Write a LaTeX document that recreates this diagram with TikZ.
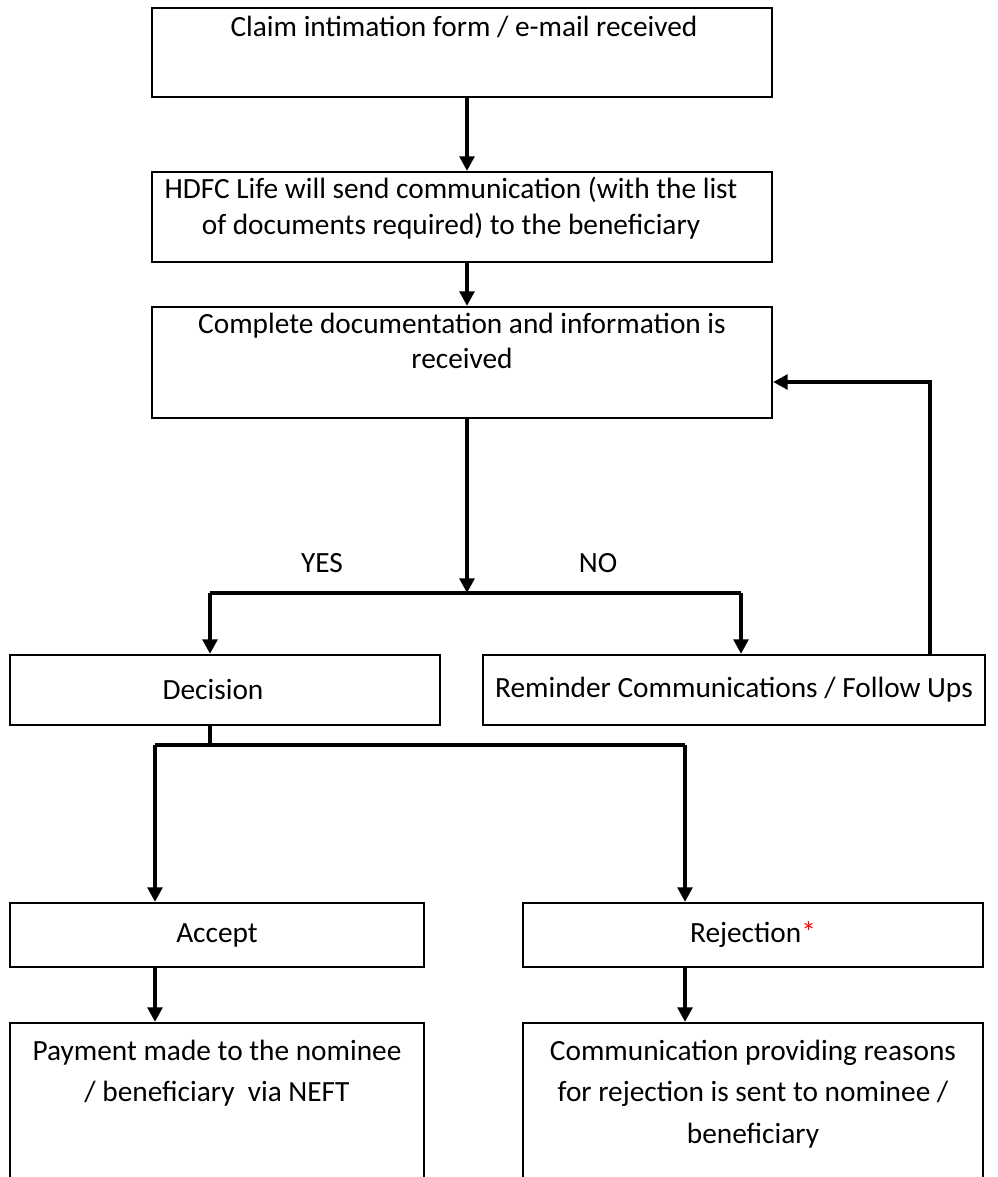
\documentclass[tikz,border=0pt]{standalone}
\usepackage{fontspec}
\setmainfont{Carlito}
\usetikzlibrary
  {
    arrows.meta,   % triangle arrow heads
    positioning,   % place nodes relative to other nodes
  }

\begin{document}
\begin{tikzpicture}
    [
      x=0.75pt, y=-0.75pt,
      box/.style=
        {
          rectangle,
          draw=black,
          line width=1.6pt,
          inner sep=0pt,
        },
      txt/.style=
        {
          align=center,
          font=\fontsize{22}{26.5}\selectfont,
          inner sep=0pt,
        },
      wide txt/.style=
        {
          txt,
          font=\fontsize{22}{31}\selectfont,
        },
      arr/.style=
        {
          line width=2.8pt,
          -{Triangle[length=11pt,width=11pt]},
        },
      bar/.style=
        {
          line width=3.6pt,
        },
    ]
    \useasboundingbox (0,0) rectangle (998,1177);
    \clip (0,0) rectangle (998,1177);

    % boxes
    \node[box, minimum width=465pt,   minimum height=66.75pt]  (claim)    at (462,52.5)   {};
    \node[box, minimum width=465pt,   minimum height=67.5pt]   (sendcomm) at (462,217)    {};
    \node[box, minimum width=465pt,   minimum height=83.25pt]  (complete) at (462,362.5)  {};
    \node[box, minimum width=322.5pt, minimum height=52.5pt]   (decision) at (225,690)    {};
    \node[box, minimum width=376.5pt, minimum height=52.5pt]   (remind)   at (734,690)    {};
    \node[box, minimum width=310.5pt, minimum height=48pt]     (accept)   at (217,935)    {};
    \node[box, minimum width=345pt,   minimum height=48pt]     (reject)   at (753,935)    {};
    \node[box, minimum width=310.5pt, minimum height=147.75pt] (payment)  at (217,1121.5) {};
    \node[box, minimum width=345pt,   minimum height=147.75pt] (reasons)  at (753,1121.5) {};

    % texts
    \node[txt] (claim text)    at (464,27)  {Claim intimation form / e-mail received};
    \node[txt] (sendcomm text) at (451,208) {HDFC Life will send communication (with the list\\
                                             of documents required) to the beneficiary};
    \node[txt] (complete text) at (462,341) {Complete documentation and information is\\
                                             received};
    \node[txt] (decision text) at (213,690) {Decision};
    \node[txt] (remind text)   at (734,690) {Reminder Communications / Follow Ups};
    \node[txt] (accept text)   at (217,935) {Accept};
    \node[txt] (reject text)   at (753,935) {Rejection{\color{red}*}};
    \node[wide txt] (payment text) at (217,1073) {Payment made to the nominee\\
                                                  / beneficiary\ \ via NEFT};
    \node[wide txt] (reasons text) at (753,1094) {Communication providing reasons\\
                                                  for rejection is sent to nominee /\\
                                                  beneficiary};
    \node[txt] (yes label) at (322,563) {YES};
    \node[txt] (no label)  at (598,563) {NO};

    % junctions
    \coordinate (spine)  at (467,0);
    \coordinate (split1) at (467,593);
    \coordinate (yes)    at (210,593);
    \coordinate (no)     at (741,593);
    \coordinate (back)   at (930,382);
    \coordinate (split2) at (210,745);
    \coordinate (acc)    at (155,745);
    \coordinate (rej)    at (685,745);

    % connectors
    \draw[arr] (claim.south -| spine) -- (sendcomm.north -| spine);
    \draw[arr] (sendcomm.south -| spine) -- (complete.north -| spine);
    \draw[arr] (complete.south -| spine) -- (split1);
    \draw[bar] (yes) -- (no);
    \draw[arr] (yes) -- (yes |- decision.north);
    \draw[arr] (no) -- (no |- remind.north);
    \draw[arr] (remind.north -| back) -- (back) -- (complete.east |- back);
    \draw[arr, -] (decision.south -| split2) -- (split2);
    \draw[bar] (acc) -- (rej);
    \draw[arr] (acc) -- (acc |- accept.north);
    \draw[arr] (rej) -- (rej |- reject.north);
    \draw[arr] (accept.south -| acc) -- (payment.north -| acc);
    \draw[arr] (reject.south -| rej) -- (reasons.north -| rej);
\end{tikzpicture}
\end{document}
